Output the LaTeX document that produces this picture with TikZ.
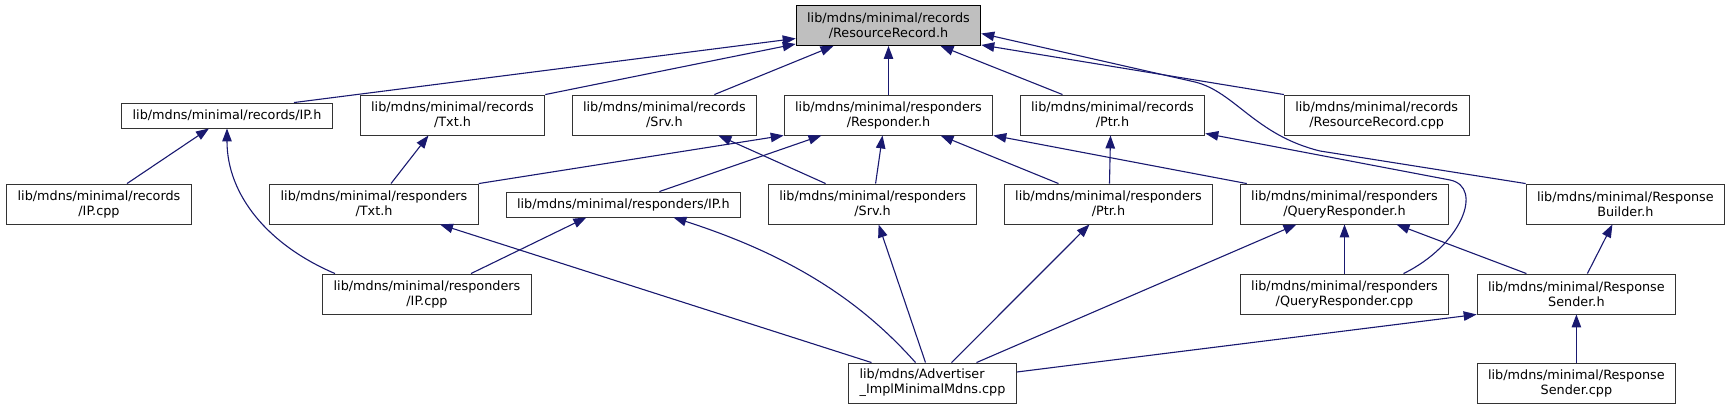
\documentclass[tikz,border=0pt]{standalone}
\usepackage{fontspec}
\setmainfont{DejaVu Sans}
\usetikzlibrary{arrows.meta}
\definecolor{edgecol}{rgb}{0.098,0.098,0.439}
\definecolor{rootfill}{gray}{0.75}

\begin{document}
\begin{tikzpicture}[x=1pt, y=-1pt,
  filebox/.style={draw=black!80, line width=0.9pt, fill=white, align=center,
    inner xsep=11pt, inner ysep=2pt, minimum height=40pt,
    font=\fontsize{12.8}{15}\selectfont},
  oneline/.style={minimum height=25pt},
  incl/.style={edgecol, line width=1.1pt, -{Triangle[length=13pt,width=9.5pt]}}]
  \useasboundingbox (0,0) rectangle (1733,409);

  \node[filebox, fill=rootfill, draw=black] (root) at (888.5,25.5) {lib/mdns/minimal/records\\/ResourceRecord.h};

  \node[filebox, oneline] (recIP) at (227,115.5) {lib/mdns/minimal/records/IP.h};
  \node[filebox] (recTxt) at (452.5,115) {lib/mdns/minimal/records\\/Txt.h};
  \node[filebox] (recSrv) at (664.4,115) {lib/mdns/minimal/records\\/Srv.h};
  \node[filebox] (respBase) at (888.5,115) {lib/mdns/minimal/responders\\/Responder.h};
  \node[filebox] (recPtr) at (1112.5,115) {lib/mdns/minimal/records\\/Ptr.h};
  \node[filebox] (recRRcpp) at (1376.7,115) {lib/mdns/minimal/records\\/ResourceRecord.cpp};

  \node[filebox] (recIPcpp) at (99,204) {lib/mdns/minimal/records\\/IP.cpp};
  \node[filebox] (respTxt) at (374,204) {lib/mdns/minimal/responders\\/Txt.h};
  \node[filebox, oneline] (respIP) at (623.4,204.5) {lib/mdns/minimal/responders/IP.h};
  \node[filebox] (respSrv) at (872.6,204) {lib/mdns/minimal/responders\\/Srv.h};
  \node[filebox] (respPtr) at (1108.5,204) {lib/mdns/minimal/responders\\/Ptr.h};
  \node[filebox] (queryH) at (1344.5,204) {lib/mdns/minimal/responders\\/QueryResponder.h};
  \node[filebox] (builderH) at (1625.4,204) {lib/mdns/minimal/Response\\Builder.h};

  \node[filebox] (respIPcpp) at (427,294) {lib/mdns/minimal/responders\\/IP.cpp};
  \node[filebox] (queryCpp) at (1344.5,294) {lib/mdns/minimal/responders\\/QueryResponder.cpp};
  \node[filebox] (senderH) at (1576.4,294) {lib/mdns/minimal/Response\\Sender.h};

  \node[filebox, align=left] (advCpp) at (932.5,383) {lib/mdns/Advertiser\\\_ImplMinimalMdns.cpp};
  \node[filebox] (senderCpp) at (1576.4,383) {lib/mdns/minimal/Response\\Sender.cpp};

  % includes of ResourceRecord.h
  \draw[incl] ([xshift=67pt]recIP.north) -- ([yshift=-13pt]root.west);
  \draw[incl] (recTxt.north east) -- ([yshift=2pt]root.south west);
  \draw[incl] ([xshift=50pt]recSrv.north) -- ([xshift=-55pt]root.south);
  \draw[incl] (respBase.north) -- (root.south);
  \draw[incl] ([xshift=-50pt]recPtr.north) -- ([xshift=52pt]root.south);
  \draw[incl] (recRRcpp.north west) -- ([yshift=1pt]root.south east);
  \draw[incl] (builderH.north west) -- (1320,151) .. controls (1255,135) and (1235,92) .. (1195,82) -- ([yshift=-8pt]root.east);

  \draw[incl] ([xshift=28pt]recIPcpp.north) -- ([xshift=-18pt]recIP.south);
  \draw[incl] ([xshift=-92pt]respIPcpp.north) .. controls (268,245) and (227,195) .. (recIP.south);
  \draw[incl] ([xshift=17pt]respTxt.north) -- ([xshift=-24pt]recTxt.south);
  \draw[incl] ([xshift=-47pt]respSrv.north) -- ([xshift=54pt]recSrv.south);
  \draw[incl] ([xshift=1pt]respPtr.north) -- ([xshift=-2pt]recPtr.south);
  \draw[incl] ([xshift=59pt]queryCpp.north) .. controls (1462,245) and (1484,187) .. (1450,180) -- ([yshift=2pt]recPtr.south east);

  % includes of Responder.h
  \draw[incl] (respTxt.north east) -- (respBase.south west);
  \draw[incl] ([xshift=36pt]respIP.north) -- ([xshift=-67pt]respBase.south);
  \draw[incl] ([xshift=3pt]respSrv.north) -- ([xshift=-6pt]respBase.south);
  \draw[incl] ([xshift=-50pt]respPtr.north) -- ([xshift=52pt]respBase.south);
  \draw[incl] ([xshift=7pt]queryH.north west) -- (respBase.south east);

  \draw[incl] ([xshift=44pt]respIPcpp.north) -- ([xshift=-37pt]respIP.south);
  \draw[incl] ([xshift=-61pt]advCpp.north) -- ([xshift=66pt]respTxt.south);
  \draw[incl] ([xshift=-17pt]advCpp.north) .. controls (860,300) and (790,255) .. ([xshift=50pt]respIP.south);
  \draw[incl] ([xshift=-7pt]advCpp.north) -- ([xshift=6pt]respSrv.south);
  \draw[incl] ([xshift=19pt]advCpp.north) -- ([xshift=-19pt]respPtr.south);
  \draw[incl] ([xshift=44pt]advCpp.north) -- ([xshift=-48pt]queryH.south);
  \draw[incl] (queryCpp.north) -- (queryH.south);
  \draw[incl] ([xshift=-50pt]senderH.north) -- ([xshift=52pt]queryH.south);
  \draw[incl] ([xshift=11pt]senderH.north) -- ([xshift=-13pt]builderH.south);
  \draw[incl] ([yshift=11pt]advCpp.east) -- (senderH.south west);
  \draw[incl] (senderCpp.north) -- (senderH.south);
\end{tikzpicture}
\end{document}
